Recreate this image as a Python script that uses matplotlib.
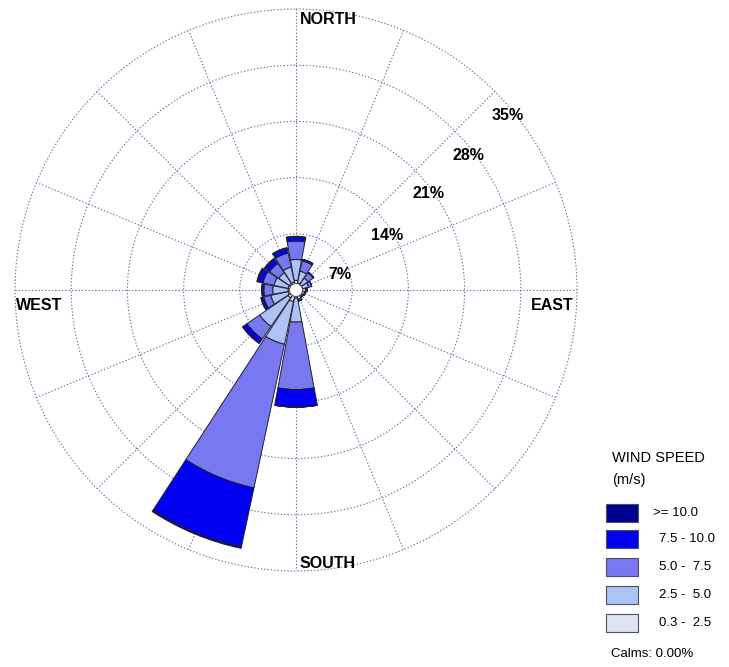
import matplotlib.pyplot as plt
import numpy as np
from matplotlib.patches import Rectangle

plt.rcParams['font.family'] = ['Liberation Sans', 'DejaVu Sans']

directions = ['N', 'NNE', 'NE', 'ENE', 'E', 'ESE', 'SE', 'SSE',
              'S', 'SSW', 'SW', 'WSW', 'W', 'WNW', 'NW', 'NNW']
bearings = np.arange(16) * 22.5

# frequency (%) per speed class, one value per direction
speed_labels = ['0.3 -  2.5', '2.5 -  5.0', '5.0 -  7.5', '7.5 - 10.0', '>= 10.0']
freq_0_2 = [1.2, 0.9, 0.8, 0.8, 0.7, 0.7, 0.6, 0.7, 1.0, 1.5, 1.2, 1.0, 1.0, 1.0, 1.0, 1.0]
freq_2_5 = [2.6, 1.5, 1.0, 0.8, 0.5, 0.4, 0.4, 0.5, 3.0, 5.4, 4.3, 2.2, 1.9, 1.8, 1.6, 1.9]
freq_5_7 = [2.3, 1.3, 0.8, 0.4, 0.2, 0.1, 0.1, 0.2, 8.4, 18.3, 1.9, 0.9, 1.1, 1.4, 1.4, 1.8]
freq_7_10 = [0.5, 0.2, 0.1, 0.0, 0.0, 0.0, 0.0, 0.0, 2.2, 7.5, 0.6, 0.3, 0.2, 0.6, 0.6, 0.6]
freq_10 = [0.1, 0.0, 0.0, 0.0, 0.0, 0.0, 0.0, 0.0, 0.0, 0.2, 0.1, 0.1, 0.1, 0.2, 0.2, 0.1]
colors = ['#dfe2f2', '#aec3f5', '#7878f0', '#0000f2', '#00008f']

rings = [7, 14, 21, 28, 35]
ring_label_bearing = [70, 59, 54, 52, 50.5]
ring_label_r = [5.8, 13.2, 20.4, 27.3, 34.1]

fig = plt.figure(figsize=(7.29, 6.67), dpi=100)
ax = fig.add_axes([0.0206, 0.1439, 0.7709, 0.8426], projection='polar')
ax.set_theta_zero_location('N')
ax.set_theta_direction(-1)
ax.set_axisbelow(True)

theta = np.radians(bearings)
width = np.radians(21)
bottom = np.zeros(16)
for vals, c in zip([freq_0_2, freq_2_5, freq_5_7, freq_7_10, freq_10], colors):
    vals = np.array(vals)
    ax.bar(theta, vals, width=width, bottom=bottom, color=c,
           edgecolor='#202030', linewidth=0.7, zorder=2)
    bottom += vals

# calm circle
tt = np.linspace(0, 2 * np.pi, 100)
ax.fill(tt, np.full_like(tt, 0.8), facecolor='white', edgecolor='#404050',
        linewidth=0.6, zorder=3)

ax.set_ylim(0, 35)
ax.set_yticks(rings)
ax.set_yticklabels([])
ax.set_xticks(theta)
ax.set_xticklabels([])
ax.grid(True, color='#6a6aa8', linestyle=(0, (1.2, 1.8)), linewidth=0.8)
for gl in ax.yaxis.get_gridlines():
    gl.set_clip_on(False)
ax.spines['polar'].set_visible(False)

for r, b, lr in zip(rings, ring_label_bearing, ring_label_r):
    ax.text(np.radians(b), lr, f'{r}%', fontsize=11.5, fontweight='bold',
            ha='center', va='center', zorder=4)

ax.text(0.507, 0.982, 'NORTH', transform=ax.transAxes, fontsize=11.5,
        fontweight='bold', ha='left', va='center')
ax.text(0.507, 0.014, 'SOUTH', transform=ax.transAxes, fontsize=11.5,
        fontweight='bold', ha='left', va='center')
ax.text(0.043, 0.473, 'WEST', transform=ax.transAxes, fontsize=11.5,
        fontweight='bold', ha='center', va='center')
ax.text(0.955, 0.473, 'EAST', transform=ax.transAxes, fontsize=11.5,
        fontweight='bold', ha='center', va='center')

# legend
W, H = 729, 667
fig.text(612 / W, 1 - 458 / H, 'WIND SPEED', fontsize=10.5, va='center', ha='left')
fig.text(612 / W, 1 - 480 / H, '(m/s)', fontsize=10.5, va='center', ha='left')
row_y = [623, 595, 567, 539, 513]
for y, c, lab in zip(row_y, colors, speed_labels):
    fig.patches.append(Rectangle((606 / W, 1 - (y + 9) / H), 32 / W, 18 / H,
                                 facecolor=c, edgecolor='#505060', linewidth=0.8,
                                 transform=fig.transFigure, figure=fig))
    x = 653 if lab.startswith('>') else 659
    fig.text(x / W, 1 - y / H, lab, fontsize=9.5, va='center', ha='left')
fig.text(611 / W, 1 - 654 / H, 'Calms: 0.00%', fontsize=9.5, va='center', ha='left')

fig.savefig('out.png', dpi=100)
